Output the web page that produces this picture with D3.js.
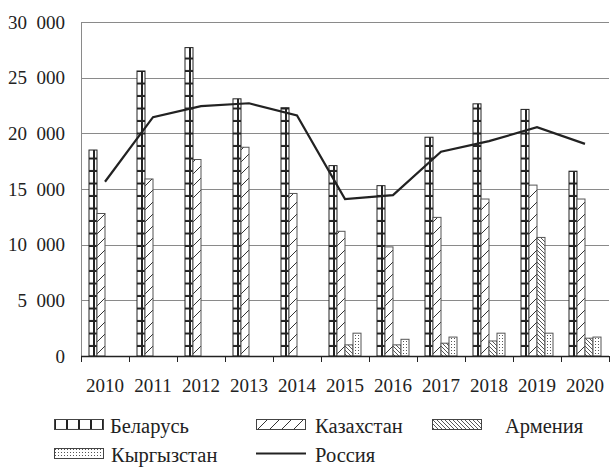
<!DOCTYPE html>
<html>
<head>
<meta charset="utf-8"/>
<style>
body { margin: 0; background: #fff; }
.axis .domain { display: none; }
</style>
</head>
<body>
<svg width="612" height="472"></svg>
<script src="https://d3js.org/d3.v7.min.js"></script>
<script>

var years = ["2010","2011","2012","2013","2014","2015","2016","2017","2018","2019","2020"];
var series = ["Беларусь", "Казахстан", "Армения", "Кыргызстан"];
var belarus    = [18500, 25600, 27700, 23100, 22300, 17100, 15300, 19650, 22650, 22150, 16600];
var kazakhstan = [12800, 15900, 17650, 18750, 14600, 11200, 9800, 12450, 14100, 15350, 14100];
var armenia    = [0, 0, 0, 0, 0, 1000, 1000, 1150, 1350, 10650, 1600];
var kyrgyzstan = [0, 0, 0, 0, 0, 2050, 1500, 1700, 2050, 2050, 1700];
var russia     = [15650, 21450, 22450, 22700, 21600, 14100, 14450, 18350, 19300, 20550, 19050];
var yTicks = [0, 5000, 10000, 15000, 20000, 25000, 30000];

var values = [belarus, kazakhstan, armenia, kyrgyzstan];
var fills = ["url(#p-bel)", "url(#p-kaz)", "url(#p-arm)", "url(#p-kyr)"];
var serif = "Liberation Serif";

var svg = d3.select("svg"),
    margin = {top: 22, right: 3, bottom: 116, left: 81},
    width = +svg.attr("width") - margin.left - margin.right,
    height = +svg.attr("height") - margin.top - margin.bottom;

// fill patterns (black & white hatching)
var defs = svg.append("defs");
var pb = defs.append("pattern").attr("id", "p-bel").attr("patternUnits", "userSpaceOnUse")
    .attr("width", 12).attr("height", 12.5);
pb.append("rect").attr("width", 12).attr("height", 12.5).attr("fill", "#fff");
pb.append("line").attr("x1", 0).attr("x2", 12).attr("y1", 11.5).attr("y2", 11.5).attr("stroke", "#222").attr("stroke-width", 2);
pb.append("line").attr("x1", 1).attr("x2", 1).attr("y1", 0).attr("y2", 12.5).attr("stroke", "#222").attr("stroke-width", 2);

var pk = defs.append("pattern").attr("id", "p-kaz").attr("patternUnits", "userSpaceOnUse")
    .attr("width", 12).attr("height", 12);
pk.append("rect").attr("width", 12).attr("height", 12).attr("fill", "#fff");
pk.append("line").attr("x1", 0).attr("y1", 12).attr("x2", 12).attr("y2", 0).attr("stroke", "#333").attr("stroke-width", 1);

var pa = defs.append("pattern").attr("id", "p-arm").attr("patternUnits", "userSpaceOnUse")
    .attr("width", 4).attr("height", 4);
pa.append("rect").attr("width", 4).attr("height", 4).attr("fill", "#fff");
pa.append("line").attr("x1", -1).attr("y1", -1).attr("x2", 5).attr("y2", 5).attr("stroke", "#444").attr("stroke-width", 0.9);

var py = defs.append("pattern").attr("id", "p-kyr").attr("patternUnits", "userSpaceOnUse")
    .attr("width", 3).attr("height", 3);
py.append("rect").attr("width", 3).attr("height", 3).attr("fill", "#fff");
py.append("rect").attr("x", 1).attr("y", 1).attr("width", 1).attr("height", 1).attr("fill", "#555");

var g = svg.append("g").attr("transform", "translate(" + margin.left + "," + margin.top + ")");

var x = d3.scaleBand().domain(years).range([0, width]).padding(0);
var x1 = d3.scaleBand().domain(series).range([8, x.bandwidth() - 8]).padding(0);
var y = d3.scaleLinear().domain([0, 30000]).range([height, 0]);

// grid
g.append("g").selectAll("line").data(yTicks.slice(1)).enter().append("line")
    .attr("x1", 0).attr("x2", width)
    .attr("y1", function(d) { return Math.round(y(d)) + 0.5; })
    .attr("y2", function(d) { return Math.round(y(d)) + 0.5; })
    .attr("stroke", "#8a8a8a").attr("stroke-width", 1);

// y axis
var yAxis = g.append("g").attr("class", "axis")
    .call(d3.axisLeft(y).tickValues(yTicks).tickSize(0).tickPadding(16)
      .tickFormat(function(d) { return d3.format(",")(d).replace(/,/g, "\u2007"); }));
yAxis.attr("font-family", serif).attr("font-size", 19);
yAxis.selectAll("text").attr("fill", "#222").attr("dy", "0.33em");
g.append("line").attr("x1", 0.5).attr("x2", 0.5).attr("y1", 0).attr("y2", height + 6).attr("stroke", "#8a8a8a");

// bars
values.forEach(function(vals, si) {
  var pts = vals.map(function(v, i) { return {year: years[i], value: v}; })
    .filter(function(d) { return d.value > 0; });
  g.append("g").selectAll("rect").data(pts).enter().append("rect")
    .attr("x", function(d) { return x(d.year) + x1(series[si]); })
    .attr("y", function(d) { return y(d.value); })
    .attr("width", x1.bandwidth())
    .attr("height", function(d) { return height - y(d.value); })
    .attr("fill", fills[si])
    .attr("stroke", si === 0 ? "#222" : "#555")
    .attr("stroke-width", 1);
});

// Russia line
var line = d3.line()
    .x(function(d, i) { return x(years[i]) + x.bandwidth() / 2; })
    .y(function(d) { return y(d); });
g.append("path").datum(russia).attr("d", line)
    .attr("fill", "none").attr("stroke", "#222").attr("stroke-width", 2.2);

// x axis
var xAxis = g.append("g").attr("class", "axis").attr("transform", "translate(0," + height + ")")
    .call(d3.axisBottom(x).tickSize(0).tickPadding(23));
xAxis.attr("font-family", serif).attr("font-size", 19);
xAxis.selectAll("text").attr("fill", "#222");
g.append("line").attr("x1", 0).attr("x2", width).attr("y1", height + 0.5).attr("y2", height + 0.5)
    .attr("stroke", "#222").attr("stroke-width", 1.5);
g.append("g").selectAll("line").data(years.concat(["end"])).enter().append("line")
    .attr("x1", function(d, i) { return Math.round(i * x.bandwidth()) + 0.5; })
    .attr("x2", function(d, i) { return Math.round(i * x.bandwidth()) + 0.5; })
    .attr("y1", height).attr("y2", height + 6)
    .attr("stroke", "#222");

// legend
var legendItems = [
  {name: "Беларусь", fill: fills[0], x: 54, y: 419, tx: 56},
  {name: "Казахстан", fill: fills[1], x: 256, y: 419, tx: 59},
  {name: "Армения", fill: fills[2], x: 432, y: 419, tx: 73},
  {name: "Кыргызстан", fill: fills[3], x: 54, y: 448, tx: 57},
  {name: "Россия", line: true, x: 256, y: 448, tx: 59}
];
var legend = svg.append("g").attr("font-family", serif).attr("font-size", 20.5)
    .selectAll("g").data(legendItems).enter().append("g")
    .attr("transform", function(d) { return "translate(" + d.x + "," + d.y + ")"; });
legend.filter(function(d) { return !d.line; }).append("rect")
    .attr("x", 0.5).attr("y", 0.5).attr("width", 49).attr("height", 10)
    .attr("fill", function(d) { return d.fill; })
    .attr("stroke", "#444").attr("stroke-width", 1);
legend.filter(function(d) { return d.line; }).append("line")
    .attr("x1", 0).attr("x2", 50).attr("y1", 5.5).attr("y2", 5.5)
    .attr("stroke", "#222").attr("stroke-width", 2.2);
legend.append("text")
    .attr("x", function(d) { return d.tx; })
    .attr("y", 13.5)
    .attr("fill", "#222")
    .text(function(d) { return d.name; });

</script>
</body>
</html>
